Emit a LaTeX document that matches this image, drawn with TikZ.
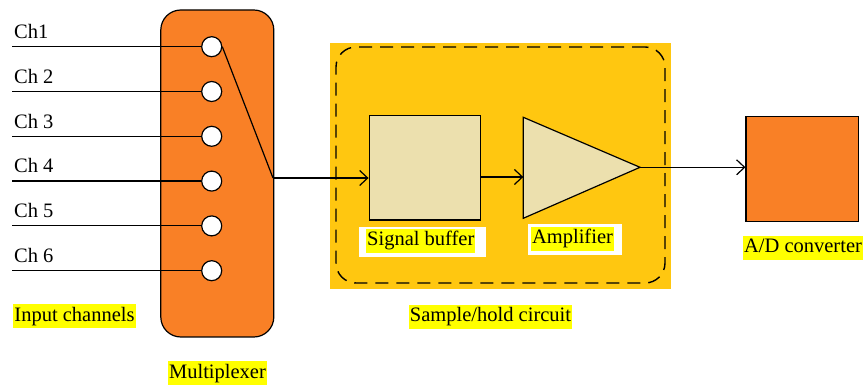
\documentclass[tikz,border=0pt]{standalone}
\usepackage{fontspec}
\setmainfont{Liberation Serif}
\usetikzlibrary{arrows.meta}

\definecolor{muxorange}{RGB}{249,128,38}
\definecolor{shgold}{RGB}{255,199,16}
\definecolor{blockbeige}{RGB}{236,224,174}
\definecolor{hlyellow}{RGB}{255,255,0}

\begin{document}
\begin{tikzpicture}[x=1pt, y=-1pt,
	font=\fontsize{20.5}{24}\selectfont,
	wire/.style={line width=1.2pt},
	sig/.style={wire, -{Straight Barb[length=8pt, width=15pt]}},
	block/.style={draw, line width=1.2pt, fill=#1, inner sep=0pt},
	pin/.style={circle, draw, line width=1.2pt, fill=white, minimum size=20pt, inner sep=0pt},
	tag/.style={fill=hlyellow, inner xsep=1pt, inner ysep=2pt, text height=15pt, text depth=5pt}]

			\useasboundingbox (0,0) rectangle (865,387);

			% multiplexer with its six inputs
			\node[block=muxorange, rounded corners=20pt, minimum width=113pt, minimum height=327pt] (mux) at (217.3,173.5) {};
			\foreach \i/\ch in {1/Ch1, 2/Ch 2, 3/Ch 3, 4/Ch 4, 5/Ch 5, 6/Ch 6} {
				\node[pin] (c\i) at (211.7, {46.7+(\i-1)*44.8}) {};
				\coordinate (in\i) at (12, {46.7+(\i-1)*44.8});
				\node[anchor=base west, inner sep=0pt] (l\i) at (14, {38.5+(\i-1)*44.8}) {\ch};
				\draw[wire] (in\i) -- (c\i.west);
			}
			\coordinate (muxout) at (273,178);
			\draw[wire] (c1.east) -- (muxout);

			% sample/hold circuit
			\node[fill=shgold, minimum width=340.7pt, minimum height=246.6pt, inner sep=0pt] (sh) at (500.5,166) {};
			\node[draw, dash pattern=on 13pt off 8pt, line width=1.4pt, rounded corners=20pt,
				minimum width=329pt, minimum height=236pt, inner sep=0pt] (shframe) at (500.5,165) {};
			\node[block=blockbeige, minimum width=111.7pt, minimum height=104.3pt] (buf) at (425,167.9) {};
			\draw[block=blockbeige] (523.3,117.3) coordinate (amptop) -- (640,167.3) coordinate (amptip)
				-- (523.3,218.3) coordinate (ampbot) -- cycle;
			\coordinate (ampin) at (523.3,177);

			% A/D converter
			\node[block=muxorange, minimum width=112.3pt, minimum height=105pt] (adc) at (802.2,169.2) {};

			\draw[sig] (muxout) -- (buf.west |- muxout);
			\draw[sig] (buf.east |- ampin) -- (ampin);
			\draw[sig] (amptip) -- (adc.west |- amptip);

			% labels
			\node[fill=white, minimum width=126.7pt, minimum height=30pt] (bufbox) at (422.3,242.3) {};
			\node[tag] (buflbl) at (420.8,240.8) {Signal buffer};
			\node[fill=white, minimum width=94pt, minimum height=31pt] (ampbox) at (574.5,240) {};
			\node[tag] (amplbl) at (572.5,239) {Amplifier};
			\node[tag] (inlbl) at (74.5,316.5) {Input channels};
			\node[tag] (muxlbl) at (217.5,373) {Multiplexer};
			\node[tag] (shlbl) at (490.5,317) {Sample/hold circuit};
			\node[tag] (adclbl) at (803,248) {A/D converter};

\end{tikzpicture}
\end{document}
